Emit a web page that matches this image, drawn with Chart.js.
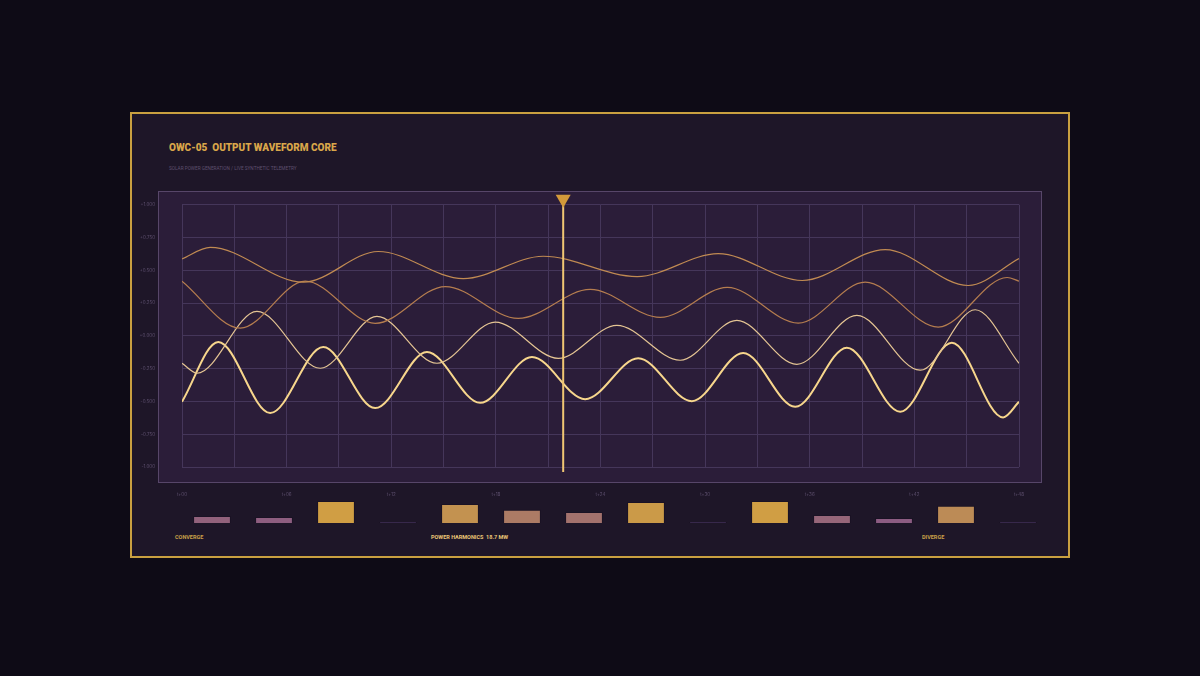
<!DOCTYPE html>
<html>
<head>
<meta charset="utf-8">
<script src="https://cdn.jsdelivr.net/npm/chart.js@4.4.1/dist/chart.umd.min.js"></script>
<style>
  html, body { margin: 0; padding: 0; }
  body { width: 1200px; height: 676px; background: #0e0b16; position: relative; overflow: hidden; font-family: Roboto, "DejaVu Sans", sans-serif; }
  .panel { position: absolute; left: 130px; top: 112px; width: 936px; height: 442px; border: 2px solid #c9a040; background: #1e1628; }
  .box { position: absolute; left: 158px; top: 191px; width: 882px; height: 290px; border: 1px solid #574669; background: #2b1d39; }
  .title { position: absolute; left: 169px; top: 142px; color: #d9a64a; font-weight: 900; font-size: 10px; white-space: pre; }
  .sub { position: absolute; left: 169px; top: 166px; color: #5e506f; font-size: 4.7px; white-space: pre; }
  .foot { position: absolute; top: 534px; font-size: 5.5px; font-weight: 700; white-space: pre; }
  canvas { position: absolute; }
</style>
</head>
<body>
<div class="panel"></div>
<div class="box"></div>
<div class="title">OWC-05  OUTPUT WAVEFORM CORE</div>
<div class="sub">SOLAR POWER GENERATION / LIVE SYNTHETIC TELEMETRY</div>
<div class="foot" style="left:175px;color:#c9a048">CONVERGE</div>
<div class="foot" style="left:431px;color:#ecc877">POWER HARMONICS  18.7 MW</div>
<div class="foot" style="left:922px;color:#c9a048">DIVERGE</div>

<canvas id="wave-chart" width="937" height="330" style="left:132px;top:175px"></canvas>
<canvas id="harm-chart" width="868" height="30" style="left:181px;top:495px"></canvas>

<script>
// waveform traces: time (t+) and amplitude, read at each crest / trough
const waveA_t = [0, 1.62, 6.96, 11.26, 16.13, 20.72, 26.1, 30.75, 35.57, 40.33, 45.09, 48];
const waveA_v = [0.587, 0.675, 0.409, 0.643, 0.437, 0.607, 0.452, 0.627, 0.422, 0.658, 0.384, 0.589];

const waveB_t = [0, 3.34, 7.07, 11.08, 15.1, 19.28, 23.41, 27.43, 31.27, 35.34, 39.18, 43.37, 47.32, 48];
const waveB_v = [0.417, 0.059, 0.417, 0.095, 0.376, 0.133, 0.354, 0.141, 0.369, 0.097, 0.409, 0.067, 0.445, 0.417];

const waveC_t = [0, 0.86, 4.3, 7.93, 11.18, 14.62, 17.96, 21.58, 24.94, 28.57, 31.82, 35.26, 38.7, 42.33, 45.49, 48];
const waveC_v = [-0.209, -0.285, 0.186, -0.247, 0.148, -0.209, 0.105, -0.171, 0.08, -0.186, 0.118, -0.217, 0.156, -0.262, 0.199, -0.209];

const waveD_t = [0, 2.08, 5.06, 8.1, 11.08, 14.05, 17.1, 20.07, 23.12, 26.16, 29.24, 32.18, 35.17, 38.13, 41.19, 44.15, 47.09, 48];
const waveD_v = [-0.503, -0.047, -0.589, -0.085, -0.551, -0.123, -0.511, -0.161, -0.483, -0.171, -0.498, -0.131, -0.541, -0.09, -0.579, -0.052, -0.622, -0.503];

const cursorT = 21.86;

// harmonic bars under the plot
const harmLabels = ['H1', 'H2', 'H3', 'H4', 'H5', 'H6', 'H7', 'H8', 'H9', 'H10', 'H11', 'H12', 'H13', 'H14'];
const harmValues = [0.32, 0.27, 1.0, 0.04, 0.86, 0.6, 0.5, 0.95, 0.04, 1.0, 0.36, 0.23, 0.78, 0.04];

function pts(ts, vs) {
    return ts.map((t, i) => ({ x: t, y: vs[i] }));
}

function mix(a, b, k) {
    const c = a.map((v, i) => Math.round(v + (b[i] - v) * k));
    return `rgb(${c[0]}, ${c[1]}, ${c[2]})`;
}

function barColor(v) {
    if (v < 0.1) return '#553c72';
    const k = Math.min(1, Math.max(0, (v - 0.25) / 0.75));
    return mix([140, 92, 130], [208, 158, 68], k);
}

const cursorPlugin = {
    id: 'cursor',
    afterDatasetsDraw(chart) {
        const { ctx, chartArea, scales } = chart;
        const x = scales.x.getPixelForValue(cursorT);
        ctx.save();
        ctx.strokeStyle = '#f0c673';
        ctx.lineWidth = 2;
        ctx.beginPath();
        ctx.moveTo(x, chartArea.top - 6);
        ctx.lineTo(x, chartArea.bottom + 5);
        ctx.stroke();
        ctx.fillStyle = '#d39a3a';
        ctx.beginPath();
        ctx.moveTo(x - 7.5, chartArea.top - 10);
        ctx.lineTo(x + 7.5, chartArea.top - 10);
        ctx.lineTo(x, chartArea.top + 3);
        ctx.closePath();
        ctx.fill();
        ctx.restore();
    }
};

const tickFont = { size: 4.5, family: 'Inter' };

function lineSet(data, color, width) {
    return {
        data: data,
        borderColor: color,
        borderWidth: width,
        pointRadius: 0,
        fill: false,
        cubicInterpolationMode: 'monotone'
    };
}

new Chart(document.getElementById('wave-chart'), {
    type: 'line',
    data: {
        datasets: [
            lineSet(pts(waveA_t, waveA_v), '#c08a52', 1.2),
            lineSet(pts(waveB_t, waveB_v), '#b57d4f', 1.2),
            lineSet(pts(waveC_t, waveC_v), '#e4c493', 1.2),
            lineSet(pts(waveD_t, waveD_v), '#f7d68c', 2)
        ]
    },
    options: {
        responsive: false,
        animation: false,
        layout: { padding: { top: 0, right: 50, bottom: 0, left: 0 } },
        plugins: { legend: { display: false }, tooltip: { enabled: false } },
        scales: {
            x: {
                type: 'linear',
                min: 0,
                max: 48,
                afterFit: (scale) => { scale.height = 38; },
                border: { display: false },
                grid: { color: '#45365a', lineWidth: 1, drawTicks: false },
                ticks: {
                    stepSize: 3,
                    autoSkip: false,
                    maxRotation: 0,
                    padding: 25,
                    color: '#5e506f',
                    font: tickFont,
                    callback: (v) => (v % 6 === 0 ? 't+' + String(v).padStart(2, '0') : '')
                }
            },
            y: {
                min: -1,
                max: 1,
                afterFit: (scale) => { scale.width = 50; },
                border: { display: false },
                grid: { color: '#45365a', lineWidth: 1, drawTicks: false },
                ticks: {
                    stepSize: 0.25,
                    padding: 27,
                    color: '#5e506f',
                    font: tickFont,
                    callback: (v) => (v >= 0 ? '+' : '') + v.toFixed(3)
                }
            }
        }
    },
    plugins: [cursorPlugin]
});

new Chart(document.getElementById('harm-chart'), {
    type: 'bar',
    data: {
        labels: harmLabels,
        datasets: [{
            data: harmValues,
            backgroundColor: harmValues.map(barColor),
            borderColor: 'rgba(20, 12, 30, 0.35)',
            borderWidth: 1,
            categoryPercentage: 1,
            barPercentage: 0.61
        }]
    },
    options: {
        responsive: false,
        animation: false,
        layout: { padding: { top: 6, bottom: 2 } },
        plugins: { legend: { display: false }, tooltip: { enabled: false } },
        scales: {
            x: { display: false },
            y: { display: false, min: 0, max: 1 }
        }
    }
});
</script>
</body>
</html>
